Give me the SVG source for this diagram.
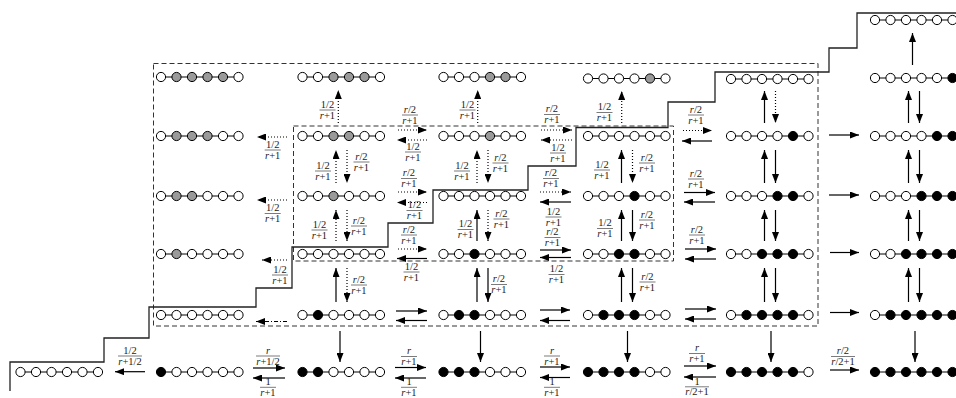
<svg xmlns="http://www.w3.org/2000/svg" width="956" height="398" viewBox="0 0 956 398">
<style>
.k{stroke:#000;stroke-width:1;fill:none}
circle{stroke:#000;stroke-width:1}
.w{fill:#fff}.g{fill:#9a9a9a}.b{fill:#000}
.s{fill:none;stroke:#000;stroke-width:1.2;marker-end:url(#a)}
.d{fill:none;stroke:#000;stroke-width:1.2;stroke-dasharray:1 2;marker-end:url(#a)}
.dd{fill:none;stroke:#000;stroke-width:1.2;stroke-dasharray:4 2 1 2;marker-end:url(#a)}
.box{fill:none;stroke:#333;stroke-width:1;stroke-dasharray:5 3}
.st{fill:none;stroke:#222;stroke-width:1.3}
.t{font-family:"Liberation Serif",serif;font-size:10.5px;text-anchor:middle;fill:#222}
.i{font-style:italic}
.fb{stroke:#222;stroke-width:0.6;fill:none}
</style>
<defs>
<marker id="a" viewBox="0 0 9 7" refX="9" refY="3.5" markerWidth="9" markerHeight="7" markerUnits="userSpaceOnUse" orient="auto"><path d="M0 0L9 3.5L0 7z" fill="#000"/></marker>
</defs>
<g id="regions">
<rect class="box" x="153.5" y="63.5" width="664.5" height="262.5"/>
<rect class="box" x="293.5" y="126" width="380" height="135"/>
<path id="boundary" class="st" d="M10 391V362H104V338H149V307H256V288H292V247H388V223H433V190H528V166H576V127.5H668V102H715V72H829V48H857V13H956"/>
</g>
<g id="nodes">
<g id="n_top6" transform="translate(875,20)"><path class="k" d="M0 0H77.5"/><circle class="w" r="4.6"/><circle class="w" cx="15.5" r="4.6"/><circle class="w" cx="31" r="4.6"/><circle class="w" cx="46.5" r="4.6"/><circle class="w" cx="62" r="4.6"/><circle class="w" cx="77.5" r="4.6"/></g>
<g id="n_A1" transform="translate(161,77)"><path class="k" d="M0 0H77.5"/><circle class="w" r="4.6"/><circle class="g" cx="15.5" r="4.6"/><circle class="g" cx="31" r="4.6"/><circle class="g" cx="46.5" r="4.6"/><circle class="g" cx="62" r="4.6"/><circle class="w" cx="77.5" r="4.6"/></g>
<g id="n_A2" transform="translate(302.5,77)"><path class="k" d="M0 0H77.5"/><circle class="w" r="4.6"/><circle class="w" cx="15.5" r="4.6"/><circle class="g" cx="31" r="4.6"/><circle class="g" cx="46.5" r="4.6"/><circle class="g" cx="62" r="4.6"/><circle class="w" cx="77.5" r="4.6"/></g>
<g id="n_A3" transform="translate(443.5,77)"><path class="k" d="M0 0H77.5"/><circle class="w" r="4.6"/><circle class="w" cx="15.5" r="4.6"/><circle class="w" cx="31" r="4.6"/><circle class="g" cx="46.5" r="4.6"/><circle class="g" cx="62" r="4.6"/><circle class="w" cx="77.5" r="4.6"/></g>
<g id="n_A4" transform="translate(588,78.5)"><path class="k" d="M0 0H77.5"/><circle class="w" r="4.6"/><circle class="w" cx="15.5" r="4.6"/><circle class="w" cx="31" r="4.6"/><circle class="w" cx="46.5" r="4.6"/><circle class="g" cx="62" r="4.6"/><circle class="w" cx="77.5" r="4.6"/></g>
<g id="n_A5" transform="translate(731,79)"><path class="k" d="M0 0H77.5"/><circle class="w" r="4.6"/><circle class="w" cx="15.5" r="4.6"/><circle class="w" cx="31" r="4.6"/><circle class="w" cx="46.5" r="4.6"/><circle class="w" cx="62" r="4.6"/><circle class="w" cx="77.5" r="4.6"/></g>
<g id="n_A6" transform="translate(875,78)"><path class="k" d="M0 0H77.5"/><circle class="w" r="4.6"/><circle class="w" cx="15.5" r="4.6"/><circle class="w" cx="31" r="4.6"/><circle class="w" cx="46.5" r="4.6"/><circle class="w" cx="62" r="4.6"/><circle class="b" cx="77.5" r="4.6"/></g>
<g id="n_B1" transform="translate(161,136)"><path class="k" d="M0 0H77.5"/><circle class="w" r="4.6"/><circle class="g" cx="15.5" r="4.6"/><circle class="g" cx="31" r="4.6"/><circle class="g" cx="46.5" r="4.6"/><circle class="w" cx="62" r="4.6"/><circle class="w" cx="77.5" r="4.6"/></g>
<g id="n_B2" transform="translate(302.5,136)"><path class="k" d="M0 0H77.5"/><circle class="w" r="4.6"/><circle class="w" cx="15.5" r="4.6"/><circle class="g" cx="31" r="4.6"/><circle class="g" cx="46.5" r="4.6"/><circle class="w" cx="62" r="4.6"/><circle class="w" cx="77.5" r="4.6"/></g>
<g id="n_B3" transform="translate(443.5,136)"><path class="k" d="M0 0H77.5"/><circle class="w" r="4.6"/><circle class="w" cx="15.5" r="4.6"/><circle class="w" cx="31" r="4.6"/><circle class="g" cx="46.5" r="4.6"/><circle class="w" cx="62" r="4.6"/><circle class="w" cx="77.5" r="4.6"/></g>
<g id="n_B4" transform="translate(588,136)"><path class="k" d="M0 0H77.5"/><circle class="w" r="4.6"/><circle class="w" cx="15.5" r="4.6"/><circle class="w" cx="31" r="4.6"/><circle class="w" cx="46.5" r="4.6"/><circle class="w" cx="62" r="4.6"/><circle class="w" cx="77.5" r="4.6"/></g>
<g id="n_B5" transform="translate(731,136)"><path class="k" d="M0 0H77.5"/><circle class="w" r="4.6"/><circle class="w" cx="15.5" r="4.6"/><circle class="w" cx="31" r="4.6"/><circle class="w" cx="46.5" r="4.6"/><circle class="b" cx="62" r="4.6"/><circle class="w" cx="77.5" r="4.6"/></g>
<g id="n_B6" transform="translate(875,136)"><path class="k" d="M0 0H77.5"/><circle class="w" r="4.6"/><circle class="w" cx="15.5" r="4.6"/><circle class="w" cx="31" r="4.6"/><circle class="w" cx="46.5" r="4.6"/><circle class="b" cx="62" r="4.6"/><circle class="b" cx="77.5" r="4.6"/></g>
<g id="n_C1" transform="translate(161,196)"><path class="k" d="M0 0H77.5"/><circle class="w" r="4.6"/><circle class="g" cx="15.5" r="4.6"/><circle class="g" cx="31" r="4.6"/><circle class="w" cx="46.5" r="4.6"/><circle class="w" cx="62" r="4.6"/><circle class="w" cx="77.5" r="4.6"/></g>
<g id="n_C2" transform="translate(302.5,196)"><path class="k" d="M0 0H77.5"/><circle class="w" r="4.6"/><circle class="w" cx="15.5" r="4.6"/><circle class="g" cx="31" r="4.6"/><circle class="w" cx="46.5" r="4.6"/><circle class="w" cx="62" r="4.6"/><circle class="w" cx="77.5" r="4.6"/></g>
<g id="n_C3" transform="translate(443.5,196)"><path class="k" d="M0 0H77.5"/><circle class="w" r="4.6"/><circle class="w" cx="15.5" r="4.6"/><circle class="w" cx="31" r="4.6"/><circle class="w" cx="46.5" r="4.6"/><circle class="w" cx="62" r="4.6"/><circle class="w" cx="77.5" r="4.6"/></g>
<g id="n_C4" transform="translate(588,196)"><path class="k" d="M0 0H77.5"/><circle class="w" r="4.6"/><circle class="w" cx="15.5" r="4.6"/><circle class="w" cx="31" r="4.6"/><circle class="b" cx="46.5" r="4.6"/><circle class="w" cx="62" r="4.6"/><circle class="w" cx="77.5" r="4.6"/></g>
<g id="n_C5" transform="translate(731,196)"><path class="k" d="M0 0H77.5"/><circle class="w" r="4.6"/><circle class="w" cx="15.5" r="4.6"/><circle class="w" cx="31" r="4.6"/><circle class="b" cx="46.5" r="4.6"/><circle class="b" cx="62" r="4.6"/><circle class="w" cx="77.5" r="4.6"/></g>
<g id="n_C6" transform="translate(875,196)"><path class="k" d="M0 0H77.5"/><circle class="w" r="4.6"/><circle class="w" cx="15.5" r="4.6"/><circle class="w" cx="31" r="4.6"/><circle class="b" cx="46.5" r="4.6"/><circle class="b" cx="62" r="4.6"/><circle class="b" cx="77.5" r="4.6"/></g>
<g id="n_D1" transform="translate(161,254)"><path class="k" d="M0 0H77.5"/><circle class="w" r="4.6"/><circle class="g" cx="15.5" r="4.6"/><circle class="w" cx="31" r="4.6"/><circle class="w" cx="46.5" r="4.6"/><circle class="w" cx="62" r="4.6"/><circle class="w" cx="77.5" r="4.6"/></g>
<g id="n_D2" transform="translate(302.5,254)"><path class="k" d="M0 0H77.5"/><circle class="w" r="4.6"/><circle class="w" cx="15.5" r="4.6"/><circle class="w" cx="31" r="4.6"/><circle class="w" cx="46.5" r="4.6"/><circle class="w" cx="62" r="4.6"/><circle class="w" cx="77.5" r="4.6"/></g>
<g id="n_D3" transform="translate(443.5,254)"><path class="k" d="M0 0H77.5"/><circle class="w" r="4.6"/><circle class="w" cx="15.5" r="4.6"/><circle class="b" cx="31" r="4.6"/><circle class="w" cx="46.5" r="4.6"/><circle class="w" cx="62" r="4.6"/><circle class="w" cx="77.5" r="4.6"/></g>
<g id="n_D4" transform="translate(588,254)"><path class="k" d="M0 0H77.5"/><circle class="w" r="4.6"/><circle class="w" cx="15.5" r="4.6"/><circle class="b" cx="31" r="4.6"/><circle class="b" cx="46.5" r="4.6"/><circle class="w" cx="62" r="4.6"/><circle class="w" cx="77.5" r="4.6"/></g>
<g id="n_D5" transform="translate(731,254)"><path class="k" d="M0 0H77.5"/><circle class="w" r="4.6"/><circle class="w" cx="15.5" r="4.6"/><circle class="b" cx="31" r="4.6"/><circle class="b" cx="46.5" r="4.6"/><circle class="b" cx="62" r="4.6"/><circle class="w" cx="77.5" r="4.6"/></g>
<g id="n_D6" transform="translate(875,254)"><path class="k" d="M0 0H77.5"/><circle class="w" r="4.6"/><circle class="w" cx="15.5" r="4.6"/><circle class="b" cx="31" r="4.6"/><circle class="b" cx="46.5" r="4.6"/><circle class="b" cx="62" r="4.6"/><circle class="b" cx="77.5" r="4.6"/></g>
<g id="n_E1" transform="translate(161,315)"><path class="k" d="M0 0H77.5"/><circle class="w" r="4.6"/><circle class="w" cx="15.5" r="4.6"/><circle class="w" cx="31" r="4.6"/><circle class="w" cx="46.5" r="4.6"/><circle class="w" cx="62" r="4.6"/><circle class="w" cx="77.5" r="4.6"/></g>
<g id="n_E2" transform="translate(302.5,315)"><path class="k" d="M0 0H77.5"/><circle class="w" r="4.6"/><circle class="b" cx="15.5" r="4.6"/><circle class="w" cx="31" r="4.6"/><circle class="w" cx="46.5" r="4.6"/><circle class="w" cx="62" r="4.6"/><circle class="w" cx="77.5" r="4.6"/></g>
<g id="n_E3" transform="translate(443.5,315)"><path class="k" d="M0 0H77.5"/><circle class="w" r="4.6"/><circle class="b" cx="15.5" r="4.6"/><circle class="b" cx="31" r="4.6"/><circle class="w" cx="46.5" r="4.6"/><circle class="w" cx="62" r="4.6"/><circle class="w" cx="77.5" r="4.6"/></g>
<g id="n_E4" transform="translate(588,315)"><path class="k" d="M0 0H77.5"/><circle class="w" r="4.6"/><circle class="b" cx="15.5" r="4.6"/><circle class="b" cx="31" r="4.6"/><circle class="b" cx="46.5" r="4.6"/><circle class="w" cx="62" r="4.6"/><circle class="w" cx="77.5" r="4.6"/></g>
<g id="n_E5" transform="translate(731,315)"><path class="k" d="M0 0H77.5"/><circle class="w" r="4.6"/><circle class="b" cx="15.5" r="4.6"/><circle class="b" cx="31" r="4.6"/><circle class="b" cx="46.5" r="4.6"/><circle class="b" cx="62" r="4.6"/><circle class="w" cx="77.5" r="4.6"/></g>
<g id="n_E6" transform="translate(875,315)"><path class="k" d="M0 0H77.5"/><circle class="w" r="4.6"/><circle class="b" cx="15.5" r="4.6"/><circle class="b" cx="31" r="4.6"/><circle class="b" cx="46.5" r="4.6"/><circle class="b" cx="62" r="4.6"/><circle class="b" cx="77.5" r="4.6"/></g>
<g id="n_F0" transform="translate(20.5,372)"><path class="k" d="M0 0H77.5"/><circle class="w" r="4.6"/><circle class="w" cx="15.5" r="4.6"/><circle class="w" cx="31" r="4.6"/><circle class="w" cx="46.5" r="4.6"/><circle class="w" cx="62" r="4.6"/><circle class="w" cx="77.5" r="4.6"/></g>
<g id="n_F1" transform="translate(161,372)"><path class="k" d="M0 0H77.5"/><circle class="b" r="4.6"/><circle class="w" cx="15.5" r="4.6"/><circle class="w" cx="31" r="4.6"/><circle class="w" cx="46.5" r="4.6"/><circle class="w" cx="62" r="4.6"/><circle class="w" cx="77.5" r="4.6"/></g>
<g id="n_F2" transform="translate(302.5,372)"><path class="k" d="M0 0H77.5"/><circle class="b" r="4.6"/><circle class="b" cx="15.5" r="4.6"/><circle class="w" cx="31" r="4.6"/><circle class="w" cx="46.5" r="4.6"/><circle class="w" cx="62" r="4.6"/><circle class="w" cx="77.5" r="4.6"/></g>
<g id="n_F3" transform="translate(443.5,372)"><path class="k" d="M0 0H77.5"/><circle class="b" r="4.6"/><circle class="b" cx="15.5" r="4.6"/><circle class="b" cx="31" r="4.6"/><circle class="w" cx="46.5" r="4.6"/><circle class="w" cx="62" r="4.6"/><circle class="w" cx="77.5" r="4.6"/></g>
<g id="n_F4" transform="translate(588,372)"><path class="k" d="M0 0H77.5"/><circle class="b" r="4.6"/><circle class="b" cx="15.5" r="4.6"/><circle class="b" cx="31" r="4.6"/><circle class="b" cx="46.5" r="4.6"/><circle class="w" cx="62" r="4.6"/><circle class="w" cx="77.5" r="4.6"/></g>
<g id="n_F5" transform="translate(731,372)"><path class="k" d="M0 0H77.5"/><circle class="b" r="4.6"/><circle class="b" cx="15.5" r="4.6"/><circle class="b" cx="31" r="4.6"/><circle class="b" cx="46.5" r="4.6"/><circle class="b" cx="62" r="4.6"/><circle class="w" cx="77.5" r="4.6"/></g>
<g id="n_F6" transform="translate(875,372)"><path class="k" d="M0 0H77.5"/><circle class="b" r="4.6"/><circle class="b" cx="15.5" r="4.6"/><circle class="b" cx="31" r="4.6"/><circle class="b" cx="46.5" r="4.6"/><circle class="b" cx="62" r="4.6"/><circle class="b" cx="77.5" r="4.6"/></g>
</g>
<g id="connectors">
<path class="d" d="M338.3 123V90"/>
<path class="d" d="M336 183V150"/><path class="d" d="M347 150V183"/>
<path class="d" d="M336 241V210"/><path class="d" d="M347 210V241"/>
<path class="s" d="M336 302V268"/><path class="d" d="M347 268V302"/>
<path class="s" d="M340 331V362"/>
<path class="d" d="M477.7 123V90"/>
<path class="d" d="M477 183V150"/><path class="d" d="M488 150V183"/>
<path class="s" d="M477 241V210"/><path class="d" d="M488 210V241"/>
<path class="s" d="M477 302V268"/><path class="s" d="M488 268V302"/>
<path class="s" d="M480.5 331V362"/>
<path class="d" d="M621.7 123V91"/>
<path class="s" d="M621.5 183V150"/><path class="d" d="M632.5 150V183"/>
<path class="s" d="M621.5 241V210"/><path class="s" d="M632.5 210V241"/>
<path class="s" d="M621.5 302V268"/><path class="s" d="M632.5 268V302"/>
<path class="s" d="M627.5 331V362"/>
<path class="s" d="M764.5 123V91"/><path class="d" d="M775.5 91V123"/>
<path class="s" d="M764.5 183V150"/><path class="s" d="M775.5 150V183"/>
<path class="s" d="M764.5 241V210"/><path class="s" d="M775.5 210V241"/>
<path class="s" d="M764.5 302V268"/><path class="s" d="M775.5 268V302"/>
<path class="s" d="M771 331V362"/>
<path class="s" d="M912.5 65V33"/>
<path class="s" d="M908.5 123V91"/><path class="s" d="M919.5 91V123"/>
<path class="s" d="M908.5 183V150"/><path class="s" d="M919.5 150V183"/>
<path class="s" d="M908.5 241V210"/><path class="s" d="M919.5 210V241"/>
<path class="s" d="M908.5 302V268"/><path class="s" d="M919.5 268V302"/>
<path class="s" d="M915 331V362"/>
<path class="d" d="M287 137H257"/><path class="d" d="M287 200H257"/><path class="d" d="M287 260H262"/>
<path class="dd" d="M287 321.5H256"/>
<path class="d" d="M398 130H427"/><path class="d" d="M427 140H397"/>
<path class="d" d="M398 192H427"/><path class="d" d="M427 202.5H397"/>
<path class="d" d="M398 249H427"/><path class="s" d="M427 258.5H397"/>
<path class="s" d="M396 311H427"/><path class="s" d="M427 320.5H396"/>
<path class="d" d="M541 130H572"/><path class="d" d="M572 140H541"/>
<path class="d" d="M540 192H571"/><path class="s" d="M571 202H540"/>
<path class="s" d="M540 250H571"/><path class="s" d="M571 257.5H540"/>
<path class="s" d="M540 310H570"/><path class="s" d="M570 320.5H540"/>
<path class="d" d="M683 130.5H712"/><path class="s" d="M712 141H682"/>
<path class="s" d="M684 192.5H715"/><path class="s" d="M715 202H684"/>
<path class="s" d="M685 249H716"/><path class="s" d="M716 259H685"/>
<path class="s" d="M685 309H716"/><path class="s" d="M716 319H685"/>
<path class="s" d="M829 135H859"/><path class="s" d="M829 195H859"/><path class="s" d="M830 252.5H859"/><path class="s" d="M830 312.5H859"/>
<path class="s" d="M145 371.7H115"/>
<path class="s" d="M253 368H285"/><path class="s" d="M285 378H253"/>
<path class="s" d="M395 367.5H426"/><path class="s" d="M426 378H395"/>
<path class="s" d="M540 367H570"/><path class="s" d="M570 377.5H540"/>
<path class="s" d="M684 366H716"/><path class="s" d="M716 377H684"/>
<path class="s" d="M830 370H859"/>
</g>
<g id="labels">
<text class="t" x="327.5" y="107.8">1/2</text><path class="fb" d="M319.5 110h16"/><text class="t" x="327.5" y="118.8"><tspan class="i">r</tspan>+1</text>
<text class="t" x="467.5" y="107.8">1/2</text><path class="fb" d="M459.5 110h16"/><text class="t" x="467.5" y="118.8"><tspan class="i">r</tspan>+1</text>
<text class="t" x="604.5" y="110.3">1/2</text><path class="fb" d="M596.5 112.5h16"/><text class="t" x="604.5" y="121.3"><tspan class="i">r</tspan>+1</text>
<text class="t" x="323" y="168.8">1/2</text><path class="fb" d="M315 171h16"/><text class="t" x="323" y="179.8"><tspan class="i">r</tspan>+1</text>
<text class="t" x="361.5" y="159.8"><tspan class="i">r</tspan>/2</text><path class="fb" d="M353.5 162h16"/><text class="t" x="361.5" y="170.8"><tspan class="i">r</tspan>+1</text>
<text class="t" x="462" y="168.8">1/2</text><path class="fb" d="M454 171h16"/><text class="t" x="462" y="179.8"><tspan class="i">r</tspan>+1</text>
<text class="t" x="500.5" y="160.8"><tspan class="i">r</tspan>/2</text><path class="fb" d="M492.5 163h16"/><text class="t" x="500.5" y="171.8"><tspan class="i">r</tspan>+1</text>
<text class="t" x="602" y="167.8">1/2</text><path class="fb" d="M594 170h16"/><text class="t" x="602" y="178.8"><tspan class="i">r</tspan>+1</text>
<text class="t" x="647" y="160.8"><tspan class="i">r</tspan>/2</text><path class="fb" d="M639 163h16"/><text class="t" x="647" y="171.8"><tspan class="i">r</tspan>+1</text>
<text class="t" x="319.5" y="227.8">1/2</text><path class="fb" d="M311.5 230h16"/><text class="t" x="319.5" y="238.8"><tspan class="i">r</tspan>+1</text>
<text class="t" x="359" y="223.8"><tspan class="i">r</tspan>/2</text><path class="fb" d="M351 226h16"/><text class="t" x="359" y="234.8"><tspan class="i">r</tspan>+1</text>
<text class="t" x="465.5" y="227.3">1/2</text><path class="fb" d="M457.5 229.5h16"/><text class="t" x="465.5" y="238.3"><tspan class="i">r</tspan>+1</text>
<text class="t" x="501.5" y="216.8"><tspan class="i">r</tspan>/2</text><path class="fb" d="M493.5 219h16"/><text class="t" x="501.5" y="227.8"><tspan class="i">r</tspan>+1</text>
<text class="t" x="605" y="226.3">1/2</text><path class="fb" d="M597 228.5h16"/><text class="t" x="605" y="237.3"><tspan class="i">r</tspan>+1</text>
<text class="t" x="647" y="217.8"><tspan class="i">r</tspan>/2</text><path class="fb" d="M639 220h16"/><text class="t" x="647" y="228.8"><tspan class="i">r</tspan>+1</text>
<text class="t" x="359" y="282.8"><tspan class="i">r</tspan>/2</text><path class="fb" d="M351 285h16"/><text class="t" x="359" y="293.8"><tspan class="i">r</tspan>+1</text>
<text class="t" x="499" y="282.3"><tspan class="i">r</tspan>/2</text><path class="fb" d="M491 284.5h16"/><text class="t" x="499" y="293.3"><tspan class="i">r</tspan>+1</text>
<text class="t" x="647.5" y="279.8"><tspan class="i">r</tspan>/2</text><path class="fb" d="M639.5 282h16"/><text class="t" x="647.5" y="290.8"><tspan class="i">r</tspan>+1</text>
<text class="t" x="272.7" y="147.8">1/2</text><path class="fb" d="M264.7 150h16"/><text class="t" x="272.7" y="158.8"><tspan class="i">r</tspan>+1</text>
<text class="t" x="272.7" y="211.3">1/2</text><path class="fb" d="M264.7 213.5h16"/><text class="t" x="272.7" y="222.3"><tspan class="i">r</tspan>+1</text>
<text class="t" x="280" y="272.8">1/2</text><path class="fb" d="M272 275h16"/><text class="t" x="280" y="283.8"><tspan class="i">r</tspan>+1</text>
<text class="t" x="410" y="112.8"><tspan class="i">r</tspan>/2</text><path class="fb" d="M402 115h16"/><text class="t" x="410" y="123.8"><tspan class="i">r</tspan>+1</text>
<text class="t" x="413" y="149.8">1/2</text><path class="fb" d="M405 152h16"/><text class="t" x="413" y="160.8"><tspan class="i">r</tspan>+1</text>
<text class="t" x="409" y="176.3"><tspan class="i">r</tspan>/2</text><path class="fb" d="M401 178.5h16"/><text class="t" x="409" y="187.3"><tspan class="i">r</tspan>+1</text>
<text class="t" x="414.5" y="208.3">1/2</text><path class="fb" d="M406.5 210.5h16"/><text class="t" x="414.5" y="219.3"><tspan class="i">r</tspan>+1</text>
<text class="t" x="409" y="232.8"><tspan class="i">r</tspan>/2</text><path class="fb" d="M401 235h16"/><text class="t" x="409" y="243.8"><tspan class="i">r</tspan>+1</text>
<text class="t" x="411.5" y="269.8">1/2</text><path class="fb" d="M403.5 272h16"/><text class="t" x="411.5" y="280.8"><tspan class="i">r</tspan>+1</text>
<text class="t" x="552" y="112.3"><tspan class="i">r</tspan>/2</text><path class="fb" d="M544 114.5h16"/><text class="t" x="552" y="123.3"><tspan class="i">r</tspan>+1</text>
<text class="t" x="558" y="150.8">1/2</text><path class="fb" d="M550 153h16"/><text class="t" x="558" y="161.8"><tspan class="i">r</tspan>+1</text>
<text class="t" x="551" y="176.3"><tspan class="i">r</tspan>/2</text><path class="fb" d="M543 178.5h16"/><text class="t" x="551" y="187.3"><tspan class="i">r</tspan>+1</text>
<text class="t" x="553.5" y="214.8">1/2</text><path class="fb" d="M545.5 217h16"/><text class="t" x="553.5" y="225.6"><tspan class="i">r</tspan>+1</text>
<text class="t" x="552.5" y="235.3"><tspan class="i">r</tspan>/2</text><path class="fb" d="M544.5 237.5h16"/><text class="t" x="552.5" y="246.3"><tspan class="i">r</tspan>+1</text>
<text class="t" x="556.5" y="272.3">1/2</text><path class="fb" d="M548.5 274.5h16"/><text class="t" x="556.5" y="283.3"><tspan class="i">r</tspan>+1</text>
<text class="t" x="696" y="112.8"><tspan class="i">r</tspan>/2</text><path class="fb" d="M688 115h16"/><text class="t" x="696" y="123.8"><tspan class="i">r</tspan>+1</text>
<text class="t" x="696" y="176.8"><tspan class="i">r</tspan>/2</text><path class="fb" d="M688 179h16"/><text class="t" x="696" y="187.8"><tspan class="i">r</tspan>+1</text>
<text class="t" x="697" y="232.8"><tspan class="i">r</tspan>/2</text><path class="fb" d="M689 235h16"/><text class="t" x="697" y="243.8"><tspan class="i">r</tspan>+1</text>
<text class="t" x="130" y="353.8">1/2</text><path class="fb" d="M118 356h24"/><text class="t" x="130" y="364.8"><tspan class="i">r</tspan>+1/2</text>
<text class="t" x="268" y="353.8"><tspan class="i">r</tspan></text><path class="fb" d="M256 356h24"/><text class="t" x="268" y="364.8"><tspan class="i">r</tspan>+1/2</text>
<text class="t" x="268" y="385.3">1</text><path class="fb" d="M260 387.3h16"/><text class="t" x="268" y="395.5"><tspan class="i">r</tspan>+1</text>
<text class="t" x="409" y="354.3"><tspan class="i">r</tspan></text><path class="fb" d="M401 356.5h16"/><text class="t" x="409" y="365.3"><tspan class="i">r</tspan>+1</text>
<text class="t" x="409" y="385.3">1</text><path class="fb" d="M401 387.3h16"/><text class="t" x="409" y="395.5"><tspan class="i">r</tspan>+1</text>
<text class="t" x="552" y="353.8"><tspan class="i">r</tspan></text><path class="fb" d="M544 356h16"/><text class="t" x="552" y="364.8"><tspan class="i">r</tspan>+1</text>
<text class="t" x="552" y="385.3">1</text><path class="fb" d="M544 387.3h16"/><text class="t" x="552" y="395.5"><tspan class="i">r</tspan>+1</text>
<text class="t" x="697" y="351.3"><tspan class="i">r</tspan></text><path class="fb" d="M689 353.5h16"/><text class="t" x="697" y="362.3"><tspan class="i">r</tspan>+1</text>
<text class="t" x="697" y="384.8">1</text><path class="fb" d="M685 386.8h24"/><text class="t" x="697" y="395.3"><tspan class="i">r</tspan>/2+1</text>
<text class="t" x="843" y="354.3"><tspan class="i">r</tspan>/2</text><path class="fb" d="M831 356.5h24"/><text class="t" x="843" y="365.3"><tspan class="i">r</tspan>/2+1</text>
</g>
</svg>
